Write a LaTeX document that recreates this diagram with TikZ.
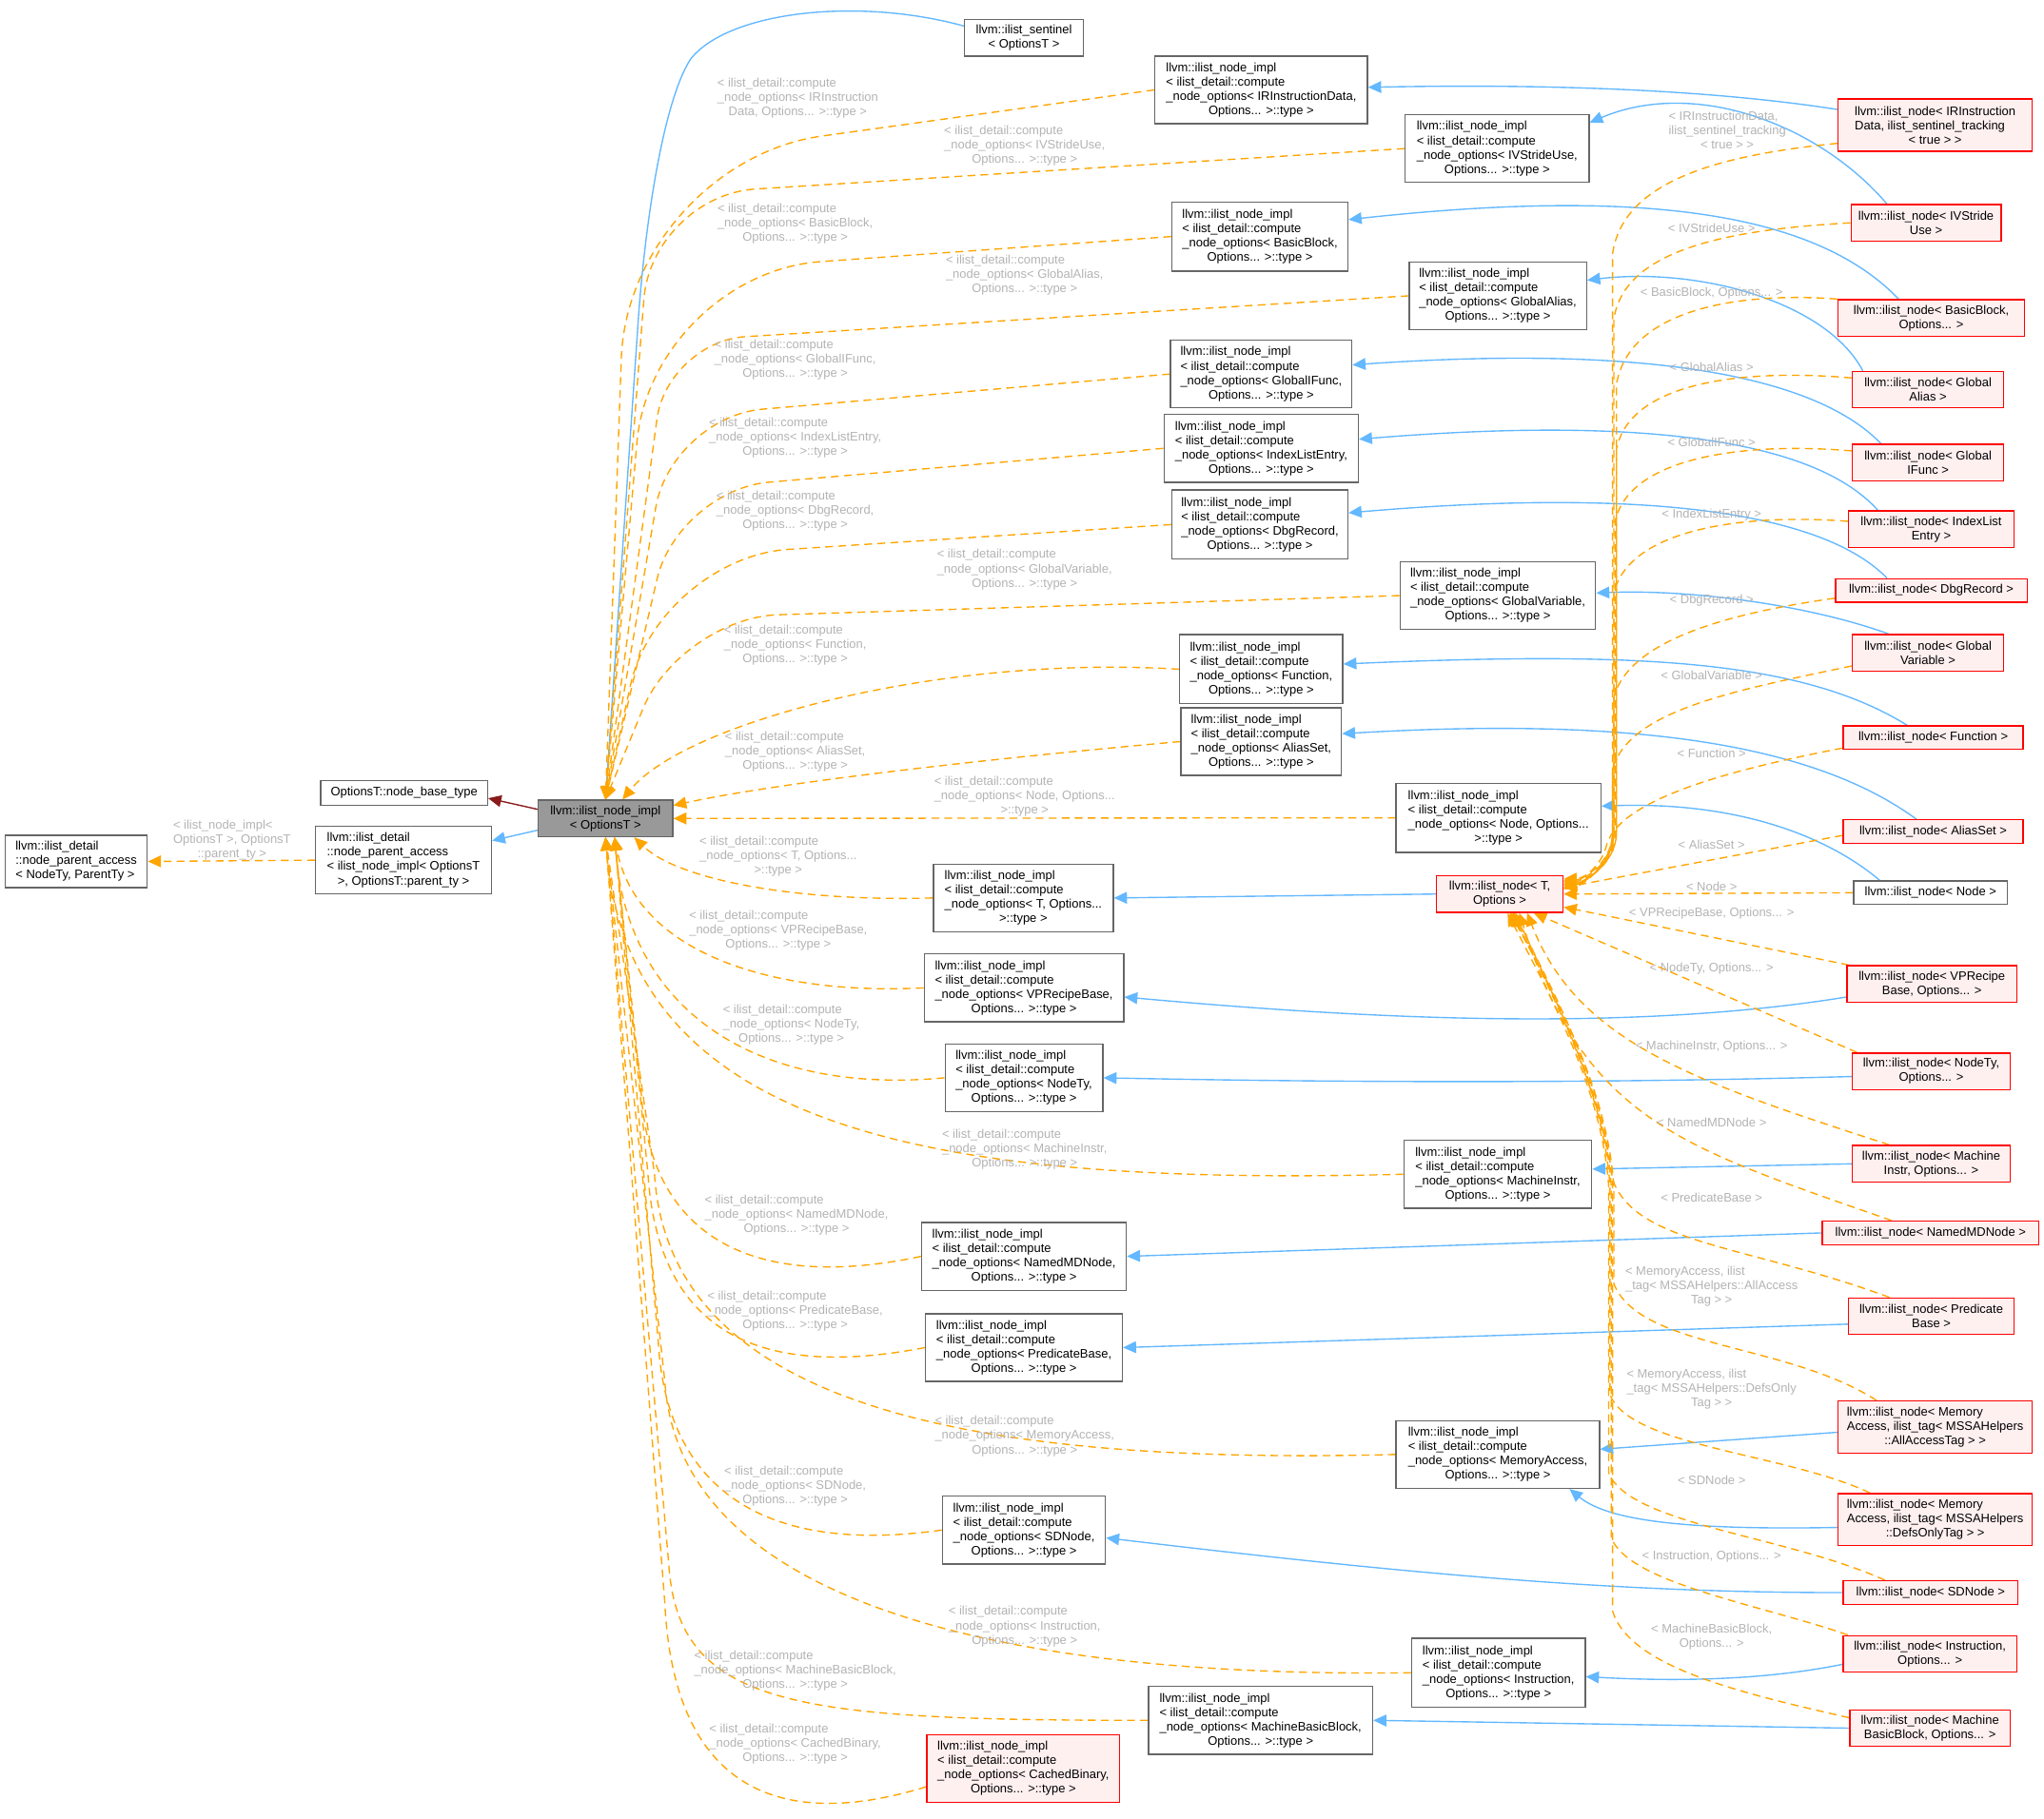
\documentclass[tikz,border=0pt]{standalone}
\usepackage{fontspec}
\setmainfont{Liberation Sans}
\usetikzlibrary{arrows.meta}
\pgfdeclarelayer{bg}
\pgfsetlayers{bg,main}

\definecolor{edgeblue}{HTML}{63B8FF}
\definecolor{tmplorange}{HTML}{FFA500}
\definecolor{privred}{HTML}{8B1A1A}
\definecolor{boxgray}{HTML}{666666}
\definecolor{hlred}{HTML}{FF0000}
\definecolor{hlfill}{HTML}{FFF0F0}
\definecolor{mainfill}{HTML}{999999}
\definecolor{lblgray}{HTML}{B4B4B4}

\newcommand\dfont{\fontsize{9.5}{11}\selectfont}
% last line of a left-aligned block, centred
\newcommand\lastln[1]{\hfill#1\hfill\null}
\newcommand\implbox[2]{llvm::ilist\_node\_impl\\< ilist\_detail::compute\\\_node\_options< #1\\\lastln{#2}}
\newcommand\implstd[1]{\implbox{#1,}{Options... >::type >}}
\newcommand\cmplbl[2]{< ilist\_detail::compute\\\_node\_options< #1\\\lastln{#2}}
\newcommand\cmpstd[1]{\cmplbl{#1,}{Options... >::type >}}

\tikzset{
  box/.style={draw=boxgray, fill=white, line width=1bp, inner sep=0pt, font=\dfont, align=left, text=black},
  hlbox/.style={box, draw=hlred, fill=hlfill},
  mainbox/.style={box, fill=mainfill},
  wh/.style 2 args={minimum width=#1bp, minimum height=#2bp},
  tip/.style={-{Triangle[length=10bp,width=9bp]}},
  inh/.style={draw=edgeblue, line width=1bp, tip},
  tpl/.style={draw=tmplorange, line width=1bp, dash pattern=on 6bp off 4bp, tip},
  priv/.style={draw=privred, line width=1bp, tip},
  lbl/.style={font=\dfont, text=lblgray, align=left, inner sep=0pt},
}

\begin{document}
\begin{tikzpicture}[x=1bp, y=-1bp]
\useasboundingbox (0,0) rectangle (1568,1395);

% ---------- classes on the left ----------
\node[box, wh={109}{40}] (A) at (58.5,661) {llvm::ilist\_detail\\::node\_parent\_access\\< NodeTy, ParentTy >};
\node[box, wh={135}{52}] (B) at (309.5,660) {llvm::ilist\_detail\\::node\_parent\_access\\< ilist\_node\_impl< OptionsT\\\lastln{>, OptionsT::parent\_ty >}};
\node[box, wh={128}{19}] (C) at (310,608.5) {OptionsT::node\_base\_type};
\node[mainbox, wh={103}{28}, align=center] (D) at (464.5,628) {llvm::ilist\_node\_impl\\< OptionsT >};
\node[box, wh={91}{28}, align=center] (E) at (785.5,29) {llvm::ilist\_sentinel\\< OptionsT >};

% ---------- ilist_node_impl instantiations ----------
\node[box, wh={163}{52}] (I1) at (967.5,69) {\implbox{IRInstructionData,}{Options... >::type >}};
\node[box, wh={141}{52}] (I2) at (1148.5,114) {\implstd{IVStrideUse}};
\node[box, wh={135}{53}] (I3) at (966.5,181.5) {\implstd{BasicBlock}};
\node[box, wh={136}{52}] (I4) at (1149,227) {\implstd{GlobalAlias}};
\node[box, wh={139}{52}] (I5) at (967.5,287) {\implstd{GlobalIFunc}};
\node[box, wh={149}{52}] (I6) at (967.5,344) {\implstd{IndexListEntry}};
\node[box, wh={135}{53}] (I7) at (966.5,402.5) {\implstd{DbgRecord}};
\node[box, wh={150}{52}] (I8) at (1149,457) {\implstd{GlobalVariable}};
\node[box, wh={125}{53}] (I9) at (967.5,513.5) {\implstd{Function}};
\node[box, wh={123}{52}] (I10) at (967.5,569) {\implstd{AliasSet}};
\node[box, wh={157}{53}] (I11) at (1149.5,627.5) {\implbox{Node, Options...}{>::type >}};
\node[box, wh={138}{52}] (I12) at (785,689) {\implbox{T, Options...}{>::type >}};
\node[box, wh={153}{52}] (I13) at (785.5,758) {\implstd{VPRecipeBase}};
\node[box, wh={121}{52}] (I14) at (785.5,827) {\implstd{NodeTy}};
\node[box, wh={144}{52}] (I15) at (1149,901) {\implstd{MachineInstr}};
\node[box, wh={157}{52}] (I16) at (785.5,964) {\implstd{NamedMDNode}};
\node[box, wh={151}{52}] (I17) at (785.5,1034) {\implstd{PredicateBase}};
\node[box, wh={156}{52}] (I18) at (1149,1116) {\implstd{MemoryAccess}};
\node[box, wh={125}{52}] (I19) at (785.5,1174) {\implstd{SDNode}};
\node[box, wh={133}{53}] (I20) at (1149.5,1283.5) {\implstd{Instruction}};
\node[box, wh={172}{52}] (I21) at (967,1320) {\implstd{MachineBasicBlock}};
\node[hlbox, wh={148}{52}] (I22) at (785,1357) {\implstd{CachedBinary}};

% ---------- ilist_node ----------
\node[hlbox, wh={97}{28}] (N) at (1150.5,686) {llvm::ilist\_node< T,\\\lastln{Options >}};

\node[hlbox, wh={149}{40}] (R1) at (1484.5,96) {llvm::ilist\_node< IRInstruction\\Data, ilist\_sentinel\_tracking\\\lastln{< true > >}};
\node[hlbox, wh={115}{28}] (R2) at (1477.5,171) {llvm::ilist\_node< IVStride\\\lastln{Use >}};
\node[hlbox, wh={143}{28}] (R3) at (1481.5,244) {llvm::ilist\_node< BasicBlock,\\\lastln{Options... >}};
\node[hlbox, wh={116}{28}] (R4) at (1479,299) {llvm::ilist\_node< Global\\\lastln{Alias >}};
\node[hlbox, wh={116}{28}] (R5) at (1479,355) {llvm::ilist\_node< Global\\\lastln{IFunc >}};
\node[hlbox, wh={127}{28}] (R6) at (1481.5,406) {llvm::ilist\_node< IndexList\\\lastln{Entry >}};
\node[hlbox, wh={147}{18}] (R7) at (1481.5,453) {llvm::ilist\_node< DbgRecord >};
\node[hlbox, wh={116}{28}] (R8) at (1479,501) {llvm::ilist\_node< Global\\\lastln{Variable >}};
\node[hlbox, wh={138}{18}] (R9) at (1483,566) {llvm::ilist\_node< Function >};
\node[hlbox, wh={138}{18}] (R10) at (1483,638) {llvm::ilist\_node< AliasSet >};
\node[box, wh={118}{18}] (R11) at (1481,685) {llvm::ilist\_node< Node >};
\node[hlbox, wh={130}{28}] (R12) at (1482,755) {llvm::ilist\_node< VPRecipe\\\lastln{Base, Options... >}};
\node[hlbox, wh={121}{28}] (R13) at (1481.5,822) {llvm::ilist\_node< NodeTy,\\\lastln{Options... >}};
\node[hlbox, wh={121}{28}] (R14) at (1481.5,893) {llvm::ilist\_node< Machine\\\lastln{Instr, Options... >}};
\node[hlbox, wh={166}{18}] (R15) at (1481,946) {llvm::ilist\_node< NamedMDNode >};
\node[hlbox, wh={127}{28}] (R16) at (1481.5,1010) {llvm::ilist\_node< Predicate\\\lastln{Base >}};
\node[hlbox, wh={149}{40}] (R17) at (1484.5,1095) {llvm::ilist\_node< Memory\\Access, ilist\_tag< MSSAHelpers\\\lastln{::AllAccessTag > >}};
\node[hlbox, wh={149}{40}] (R18) at (1484.5,1166) {llvm::ilist\_node< Memory\\Access, ilist\_tag< MSSAHelpers\\\lastln{::DefsOnlyTag > >}};
\node[hlbox, wh={134}{18}] (R19) at (1481,1222) {llvm::ilist\_node< SDNode >};
\node[hlbox, wh={133}{28}] (R20) at (1480.5,1269) {llvm::ilist\_node< Instruction,\\\lastln{Options... >}};
\node[hlbox, wh={123}{28}] (R21) at (1480.5,1326) {llvm::ilist\_node< Machine\\\lastln{BasicBlock, Options... >}};

% ---------- edge labels ----------
\node[lbl] (L0) at (178,645) {< ilist\_node\_impl<\\OptionsT >, OptionsT\\\lastln{::parent\_ty >}};
\node[lbl] (L1) at (612,75) {\cmplbl{IRInstruction}{Data, Options... >::type >}};
\node[lbl] (L2) at (786,112) {\cmpstd{IVStrideUse}};
\node[lbl] (L3) at (610,172) {\cmpstd{BasicBlock}};
\node[lbl] (L4) at (786,211) {\cmpstd{GlobalAlias}};
\node[lbl] (L5) at (610,276) {\cmpstd{GlobalIFunc}};
\node[lbl] (L6) at (610,336) {\cmpstd{IndexListEntry}};
\node[lbl] (L7) at (610,392) {\cmpstd{DbgRecord}};
\node[lbl] (L8) at (786,437) {\cmpstd{GlobalVariable}};
\node[lbl] (L9) at (610,495) {\cmpstd{Function}};
\node[lbl] (L10) at (610,577) {\cmpstd{AliasSet}};
\node[lbl] (L11) at (786,611) {\cmplbl{Node, Options...}{>::type >}};
\node[lbl] (L12) at (597,657) {\cmplbl{T, Options...}{>::type >}};
\node[lbl] (L13) at (597,714) {\cmpstd{VPRecipeBase}};
\node[lbl] (L14) at (607,786) {\cmpstd{NodeTy}};
\node[lbl] (L15) at (786,882) {\cmpstd{MachineInstr}};
\node[lbl] (L16) at (611,932) {\cmpstd{NamedMDNode}};
\node[lbl] (L17) at (610,1006) {\cmpstd{PredicateBase}};
\node[lbl] (L18) at (786,1102) {\cmpstd{MemoryAccess}};
\node[lbl] (L19) at (610,1140) {\cmpstd{SDNode}};
\node[lbl] (L20) at (786,1248) {\cmpstd{Instruction}};
\node[lbl] (L21) at (610,1282) {\cmpstd{MachineBasicBlock}};
\node[lbl] (L22) at (610,1338) {\cmpstd{CachedBinary}};

\node[lbl] (M1) at (1325,100) {< IRInstructionData,\\ilist\_sentinel\_tracking\\\lastln{< true > >}};
\node[lbl] (M2) at (1313,175) {< IVStrideUse >};
\node[lbl] (M3) at (1313,225) {< BasicBlock, Options... >};
\node[lbl] (M4) at (1313,282) {< GlobalAlias >};
\node[lbl] (M5) at (1313,339) {< GlobalIFunc >};
\node[lbl] (M6) at (1313,395) {< IndexListEntry >};
\node[lbl] (M7) at (1313,461) {< DbgRecord >};
\node[lbl] (M8) at (1313,518) {< GlobalVariable >};
\node[lbl] (M9) at (1313,578) {< Function >};
\node[lbl] (M10) at (1313,648) {< AliasSet >};
\node[lbl] (M11) at (1313,680) {< Node >};
\node[lbl] (M12) at (1313,701) {< VPRecipeBase, Options... >};
\node[lbl] (M13) at (1313,743) {< NodeTy, Options... >};
\node[lbl] (M14) at (1313,803) {< MachineInstr, Options... >};
\node[lbl] (M15) at (1313,861) {< NamedMDNode >};
\node[lbl] (M16) at (1313,919) {< PredicateBase >};
\node[lbl] (M17) at (1313,987) {< MemoryAccess, ilist\\\_tag< MSSAHelpers::AllAccess\\\lastln{Tag > >}};
\node[lbl] (M18) at (1313,1066) {< MemoryAccess, ilist\\\_tag< MSSAHelpers::DefsOnly\\\lastln{Tag > >}};
\node[lbl] (M19) at (1313,1136) {< SDNode >};
\node[lbl] (M20) at (1313,1194) {< Instruction, Options... >};
\node[lbl] (M21) at (1313,1256) {< MachineBasicBlock,\\\lastln{Options... >}};

\begin{pgfonlayer}{bg}
\fill[white] (0,0) rectangle (1568,1395);
% ---------- around the base class ----------
\draw[priv] ([yshift=7bp]D.west) -- ([yshift=-4bp]C.east);
\draw[inh] ([yshift=-9bp]D.west) -- ([yshift=15bp]B.east);
\draw[tpl] (B.west) -- (A.east);
\draw[inh] ([yshift=9bp]E.west) .. controls (660,-2) and (560,8) .. (530,45)
  .. controls (512,72) and (497,150) .. (490,240) -- (D.north);

% ---------- instantiations arriving on top of the base ----------
\draw[tpl, rounded corners=150bp] (I1.west) -- (482,125) -- (D.north);
\draw[tpl, rounded corners=80bp] (I2.west) -- (500,150) -- (D.north);
\draw[tpl, rounded corners=130bp] (I3.west) -- (500,210) -- (D.north);
\draw[tpl, rounded corners=60bp] (I4.west) -- (512,262) -- (D.north);
\draw[tpl, rounded corners=70bp] (I5.west) -- (515,320) -- (D.north);
\draw[tpl, rounded corners=70bp] (I6.west) -- (520,376) -- (D.north);
\draw[tpl, rounded corners=100bp] (I7.west) -- (505,428) -- (D.north);
\draw[tpl, rounded corners=75bp] (I8.west) -- (522,474) -- (D.north);
\draw[tpl] (I9.west) .. controls (720,502) and (525,555) .. ([xshift=13bp]D.north);
\draw[tpl] (I10.west) .. controls (760,582) and (600,600) .. ([yshift=10bp]D.east);
\draw[tpl] (I11.west) -- (D.east);

% ---------- instantiations arriving from below ----------
\draw[tpl] (I12.west) .. controls (610,692) and (520,675) .. ([xshift=22bp]D.south);
\draw[tpl] (I13.west) .. controls (590,764) and (488,730) .. ([xshift=7bp]D.south);
\draw[tpl] (I14.west) .. controls (585,840) and (482,780) .. ([xshift=7bp]D.south);
\draw[tpl] (I15.west) .. controls (720,910) and (482,870) .. (D.south);
\draw[tpl] (I16.west) .. controls (585,990) and (500,955) .. (492,840) -- ([xshift=7bp]D.south);
\draw[tpl] (I17.west) .. controls (585,1058) and (505,1025) .. (497,900) -- ([xshift=7bp]D.south);
\draw[tpl] (I18.west) .. controls (720,1125) and (512,1070) .. (502,900) -- (D.south);
\draw[tpl] (I19.west) .. controls (595,1192) and (512,1150) .. (505,1030) -- ([xshift=7bp]D.south);
\draw[tpl] (I20.west) .. controls (730,1288) and (520,1215) .. (510,1060) -- (D.south);
\draw[tpl] (I21.west) .. controls (610,1320) and (520,1310) .. (513,1200) -- (D.south);
\draw[tpl] ([yshift=-14bp]I22.west) .. controls (600,1405) and (517,1375) .. (510,1230) -- (D.south);

% ---------- ilist_node classes to their impl bases ----------
\draw[inh] ([yshift=12bp]R1.west) .. controls (1320,70) and (1200,64) .. ([yshift=2bp]I1.east);
\draw[inh] ([xshift=-30bp]R2.north) .. controls (1395,95) and (1300,60) .. ([yshift=20bp]I2.east);
\draw[inh] ([xshift=-25bp]R3.north) .. controls (1390,160) and (1250,145) .. ([yshift=13bp]I3.east);
\draw[inh] ([xshift=-50bp]R4.north) .. controls (1400,230) and (1300,205) .. ([yshift=12bp]I4.east);
\draw[inh] ([xshift=-36bp]R5.north) .. controls (1390,285) and (1250,265) .. ([yshift=7bp]I5.east);
\draw[inh] ([xshift=-41bp]R6.north) .. controls (1390,335) and (1250,320) .. ([yshift=7bp]I6.east);
\draw[inh] ([xshift=-34bp]R7.north) .. controls (1395,390) and (1250,375) .. ([yshift=9bp]I7.east);
\draw[inh] ([xshift=-30bp]R8.north) .. controls (1390,465) and (1300,452) .. ([yshift=2bp]I8.east);
\draw[inh] ([xshift=-20bp]R9.north) .. controls (1380,505) and (1250,500) .. ([yshift=4bp]I9.east);
\draw[inh] ([xshift=-13bp]R10.north) .. controls (1390,570) and (1250,550) .. ([yshift=6bp]I10.east);
\draw[inh] ([xshift=-39bp]R11.north) .. controls (1400,640) and (1330,615) .. ([yshift=9bp]I11.east);
\draw[inh] (N.west) -- (I12.east);
\draw[inh] ([yshift=-10bp]R12.west) .. controls (1250,792) and (1050,782) .. ([yshift=-7bp]I13.east);
\draw[inh] ([yshift=-4bp]R13.west) .. controls (1200,832) and (1000,830) .. (I14.east);
\draw[inh] (R14.west) -- ([yshift=4bp]I15.east);
\draw[inh] (R15.west) -- (I16.east);
\draw[inh] ([yshift=-6bp]R16.west) -- (I17.east);
\draw[inh] ([yshift=-4bp]R17.west) -- ([yshift=4bp]I18.east);
\draw[inh] ([yshift=-6bp]R18.west) .. controls (1300,1174) and (1235,1168) .. ([xshift=55bp]I18.south);
\draw[inh] (R19.west) .. controls (1250,1222) and (1100,1210) .. ([yshift=-6bp]I19.east);
\draw[inh] ([yshift=-8bp]R20.west) .. controls (1350,1290) and (1280,1290) .. ([yshift=-3bp]I20.east);
\draw[inh] (R21.west) -- (I21.east);

% ---------- ilist_node instantiations of the template ----------
\draw[tpl] ([yshift=-14bp]R1.west) .. controls (1330,118) and (1245,135) .. (1237,195)
  -- (1237,640) .. controls (1236,663) and (1215,674) .. ([yshift=-3bp]N.north east);
\draw[tpl] (R2.west) .. controls (1330,176) and (1246,190) .. (1238,245)
  -- (1238,640) .. controls (1237,663) and (1215,675) .. ([yshift=-4bp]N.north east);
\draw[tpl] (R3.north west) .. controls (1340,224) and (1250,235) .. (1240,295)
  -- (1240,640) .. controls (1239,663) and (1216,676) .. ([yshift=-5bp]N.north east);
\draw[tpl] ([yshift=9bp]R4.west) .. controls (1340,283) and (1250,292) .. (1240,345)
  -- (1240,640) .. controls (1239,663) and (1216,677) .. ([yshift=-6bp]N.north east);
\draw[tpl] ([yshift=9bp]R5.west) .. controls (1340,339) and (1250,350) .. (1239,400)
  -- (1239,640) .. controls (1238,663) and (1216,677) .. ([yshift=-7bp]N.north east);
\draw[tpl] ([yshift=6bp]R6.west) .. controls (1340,394) and (1250,405) .. (1238,455)
  -- (1238,640) .. controls (1237,663) and (1215,678) .. ([yshift=-8bp]N.north east);
\draw[tpl] ([yshift=-6bp]R7.west) .. controls (1330,470) and (1250,490) .. (1238,535)
  -- (1238,640) .. controls (1237,663) and (1215,678) .. ([yshift=-9bp]N.north east);
\draw[tpl] ([yshift=-10bp]R8.west) .. controls (1330,530) and (1250,545) .. (1237,590)
  -- (1237,640) .. controls (1236,663) and (1215,679) .. ([yshift=-10bp]N.north east);
\draw[tpl] ([yshift=-8bp]R9.west) .. controls (1320,592) and (1240,615) .. (1232,650)
  .. controls (1228,665) and (1214,674) .. ([yshift=-11bp]N.north east);
\draw[tpl] ([yshift=-3bp]R10.west) -- ([yshift=5bp]N.east);
\draw[tpl] (R11.west) -- (N.east);
\draw[tpl] ([xshift=2bp]R12.north west) -- ([yshift=-10bp]N.east);
\draw[tpl] ([xshift=4bp]R13.north west) -- ([xshift=26bp]N.south);
\draw[tpl] ([xshift=-32bp]R14.north) .. controls (1300,830) and (1210,800) .. ([xshift=21bp]N.south);
\draw[tpl] ([xshift=-30bp]R15.north) .. controls (1290,880) and (1215,860) .. ([xshift=15bp]N.south);
\draw[tpl] ([xshift=-32bp]R16.north) .. controls (1340,955) and (1255,955) .. (1237,905)
  .. controls (1228,835) and (1190,762) .. ([xshift=10bp]N.south);
\draw[tpl] ([xshift=-45bp]R17.north) .. controls (1370,1030) and (1258,1035) .. (1238,985)
  -- (1238,910) .. controls (1233,835) and (1192,762) .. ([xshift=8bp]N.south);
\draw[tpl] ([xshift=-50bp]R18.north) .. controls (1370,1115) and (1250,1110) .. (1235,1070)
  -- (1235,910) .. controls (1230,835) and (1190,762) .. ([xshift=12bp]N.south);
\draw[tpl] ([xshift=-35bp]R19.north) .. controls (1370,1178) and (1250,1170) .. (1234,1130)
  -- (1234,910) .. controls (1229,835) and (1188,762) .. ([xshift=6bp]N.south);
\draw[tpl] ([xshift=4bp]R20.north west) .. controls (1350,1231) and (1250,1215) .. (1236,1180)
  -- (1236,910) .. controls (1231,835) and (1191,762) .. ([xshift=9bp]N.south);
\draw[tpl] ([yshift=8bp]R21.west) .. controls (1340,1300) and (1250,1280) .. (1237,1236)
  -- (1237,910) .. controls (1232,835) and (1192,762) .. ([xshift=11bp]N.south);
\end{pgfonlayer}
\end{tikzpicture}
\end{document}
